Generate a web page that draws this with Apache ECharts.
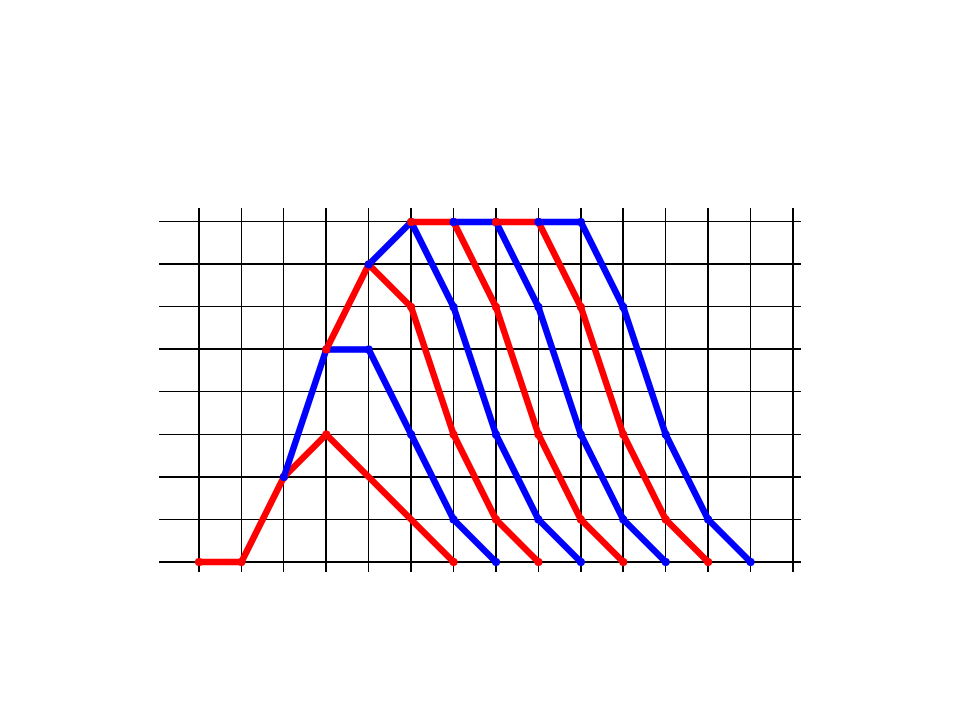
<!DOCTYPE html>
<html>
<head>
<meta charset="utf-8">
<script src="https://cdn.jsdelivr.net/npm/echarts@6/dist/echarts.min.js"></script>
<style>html,body{margin:0;padding:0;background:#fff;}#c{width:960px;height:720px;}</style>
</head>
<body>
<div id="c"></div>
<script>
// grid tick values (x: 0..14, y: 0..8) and which are drawn heavier
const xTicks = [0,1,2,3,4,5,6,7,8,9,10,11,12,13,14];
const yTicks = [0,1,2,3,4,5,6,7,8];
const xHeavy = [0,3,5,7,9,10,12,14];
const yHeavy = [0,2,5,7];

// polylines
const red1  = [[0,0],[1,0],[2,2],[3,3],[6,0]];
const blue1 = [[2,2],[3,5],[4,5],[5,3],[6,1],[7,0]];
const red2  = [[3,5],[4,7],[5,6],[6,3],[7,1],[8,0]];
const blue2 = [[4,7],[5,8],[6,6],[7,3],[8,1],[9,0]];
const red3  = [[5,8],[6,8],[7,6],[8,3],[9,1],[10,0]];
const blue3 = [[6,8],[7,8],[8,6],[9,3],[10,1],[11,0]];
const red4  = [[7,8],[8,8],[9,6],[10,3],[11,1],[12,0]];
const blue4 = [[8,8],[9,8],[10,6],[11,3],[12,1],[13,0]];

const RED = '#ff0000', BLUE = '#0000ff';

function crisp(p, w) {
  return (w % 2 === 1) ? Math.floor(p) + 0.5 : Math.round(p);
}

const chart = echarts.init(document.getElementById('c'));

function lineSeries(data, color) {
  return {
    type: 'line', data: data, z: 5,
    showSymbol: true, symbol: 'circle', symbolSize: 8,
    lineStyle: {color: color, width: 6.5, join: 'round'},
    itemStyle: {color: color},
    animation: false, silent: true
  };
}

const series = [
  {
    type: 'custom', z: 1, silent: true, animation: false,
    data: xTicks.map(v => [v, xHeavy.indexOf(v) >= 0 ? 1 : 0]),
    renderItem: function (params, api) {
      const w = api.value(1) ? 2 : 1;
      const x = crisp(api.coord([api.value(0), 0])[0], w);
      const cs = params.coordSys;
      return {type: 'line', shape: {x1: x, y1: cs.y, x2: x, y2: cs.y + cs.height},
              style: {stroke: '#000', lineWidth: w}};
    }
  },
  {
    type: 'custom', z: 1, silent: true, animation: false,
    data: yTicks.map(v => [0, v, yHeavy.indexOf(v) >= 0 ? 1 : 0]),
    renderItem: function (params, api) {
      const w = api.value(2) ? 2 : 1;
      const y = crisp(api.coord([0, api.value(1)])[1], w);
      const cs = params.coordSys;
      return {type: 'line', shape: {x1: cs.x, y1: y, x2: cs.x + cs.width, y2: y},
              style: {stroke: '#000', lineWidth: w}};
    }
  },
  lineSeries(red1, RED),
  lineSeries(blue1, BLUE),
  lineSeries(red2, RED),
  lineSeries(blue2, BLUE),
  lineSeries(red3, RED),
  lineSeries(blue3, BLUE),
  lineSeries(red4, RED),
  lineSeries(blue4, BLUE)
];

chart.setOption({
  backgroundColor: '#fff',
  animation: false,
  grid: {left: 159, right: 159, top: 208, bottom: 148, containLabel: false},
  xAxis: {
    type: 'value', min: -0.943, max: 14.189,
    axisLine: {show: false}, axisTick: {show: false}, axisLabel: {show: false}, splitLine: {show: false}
  },
  yAxis: {
    type: 'value', min: -0.235, max: 8.329,
    axisLine: {show: false}, axisTick: {show: false}, axisLabel: {show: false}, splitLine: {show: false}
  },
  series: series
});
</script>
</body>
</html>
